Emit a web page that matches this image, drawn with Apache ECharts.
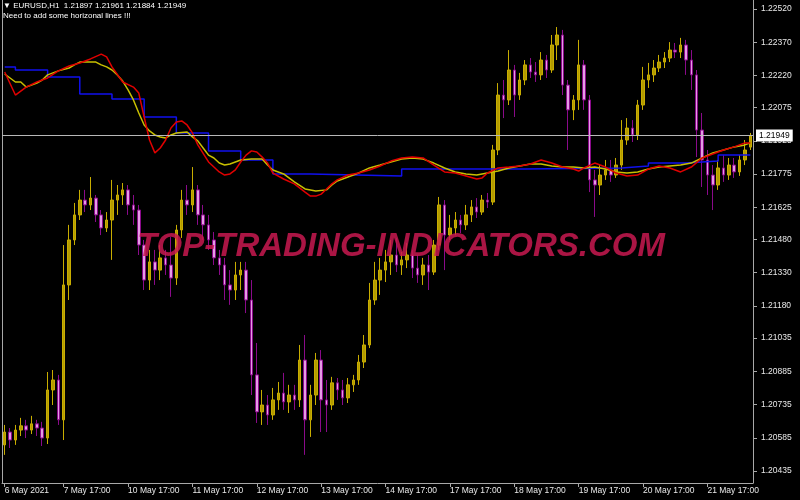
<!DOCTYPE html>
<html><head><meta charset="utf-8">
<script src="https://cdn.jsdelivr.net/npm/echarts@6/dist/echarts.min.js"></script>
<style>html,body{margin:0;padding:0;background:#000;}#c{width:800px;height:500px;}</style>
</head><body><div id="c"></div>
<script>
// ---- data (EURUSD, 2-hour buckets) ----
const opens = [
1.20553,1.20611,1.20575,1.20620,1.20639,1.20620,1.20648,1.20629,1.20584,1.20801,
1.20846,1.20666,1.21275,1.21478,1.21591,1.21658,1.21636,1.21667,1.21591,1.21532,
1.21568,1.21658,1.21681,1.21704,1.21636,1.21613,1.21455,1.21297,1.21379,1.21342,
1.21397,1.21365,1.21306,1.21523,1.21658,1.21636,1.21704,1.21591,1.21546,1.21478,
1.21397,1.21365,1.21275,1.21252,1.21320,1.21342,1.21207,1.20869,1.20702,1.20733,
1.20688,1.20756,1.20787,1.20747,1.20778,1.20756,1.20936,1.20666,1.20778,1.20936,
1.20756,1.20733,1.20833,1.20801,1.20765,1.20824,1.20846,1.20927,1.21004,1.21207,
1.21297,1.21342,1.21379,1.21410,1.21365,1.21388,1.21410,1.21351,1.21320,1.21365,
1.21333,1.21455,1.21636,1.21500,1.21532,1.21568,1.21546,1.21591,1.21627,1.21604,
1.21658,1.21649,1.21884,1.22132,1.22110,1.22245,1.22132,1.22200,1.22268,1.22236,
1.22223,1.22290,1.22245,1.22358,1.22403,1.22177,1.22065,1.22110,1.22268,1.22110,
1.21749,1.21726,1.21771,1.21794,1.21771,1.21816,1.21929,1.21983,1.21952,1.22087,
1.22200,1.22223,1.22254,1.22281,1.22299,1.22335,1.22326,1.22358,1.22290,1.22223,
1.21974,1.21839,1.21771,1.21726,1.21803,1.21771,1.21816,1.21785,1.21839,1.21897
];
const closes = [
1.20611,1.20575,1.20620,1.20639,1.20620,1.20648,1.20629,1.20584,1.20801,1.20846,
1.20666,1.21275,1.21478,1.21591,1.21658,1.21636,1.21667,1.21591,1.21532,1.21568,
1.21658,1.21681,1.21704,1.21636,1.21613,1.21455,1.21297,1.21379,1.21342,1.21397,
1.21365,1.21306,1.21523,1.21658,1.21636,1.21704,1.21591,1.21546,1.21478,1.21397,
1.21365,1.21275,1.21252,1.21320,1.21342,1.21207,1.20869,1.20702,1.20733,1.20688,
1.20756,1.20787,1.20747,1.20778,1.20756,1.20936,1.20666,1.20778,1.20936,1.20756,
1.20733,1.20833,1.20801,1.20765,1.20824,1.20846,1.20927,1.21004,1.21207,1.21297,
1.21342,1.21379,1.21410,1.21365,1.21388,1.21410,1.21351,1.21320,1.21365,1.21333,
1.21455,1.21636,1.21500,1.21532,1.21568,1.21546,1.21591,1.21627,1.21604,1.21658,
1.21649,1.21884,1.22132,1.22110,1.22245,1.22132,1.22200,1.22268,1.22236,1.22223,
1.22290,1.22245,1.22358,1.22403,1.22177,1.22065,1.22110,1.22268,1.22110,1.21749,
1.21726,1.21771,1.21794,1.21771,1.21816,1.21929,1.21983,1.21952,1.22087,1.22200,
1.22223,1.22254,1.22281,1.22299,1.22335,1.22326,1.22358,1.22290,1.22223,1.21974,
1.21839,1.21771,1.21726,1.21803,1.21771,1.21816,1.21785,1.21839,1.21884,1.21949
];
const lows = [
1.20508,1.20539,1.20553,1.20593,1.20584,1.20602,1.20593,1.20548,1.20557,1.20733,
1.20643,1.20575,1.21207,1.21455,1.21568,1.21604,1.21613,1.21559,1.21500,1.21514,
1.21388,1.21591,1.21636,1.21591,1.21546,1.21410,1.21252,1.21252,1.21275,1.21297,
1.21320,1.21221,1.21275,1.21487,1.21591,1.21604,1.21546,1.21478,1.21433,1.21365,
1.21320,1.21207,1.21185,1.21207,1.21252,1.21148,1.20778,1.20652,1.20643,1.20643,
1.20666,1.20711,1.20711,1.20697,1.20711,1.20724,1.20508,1.20589,1.20733,1.20611,
1.20611,1.20711,1.20756,1.20733,1.20742,1.20792,1.20824,1.20900,1.20990,1.21185,
1.21230,1.21288,1.21320,1.21333,1.21320,1.21351,1.21306,1.21284,1.21275,1.21252,
1.21320,1.21433,1.21342,1.21478,1.21500,1.21509,1.21523,1.21559,1.21577,1.21591,
1.21622,1.21636,1.21861,1.22028,1.22087,1.22033,1.22110,1.22177,1.22209,1.22191,
1.22200,1.22209,1.22232,1.22290,1.22132,1.21884,1.22019,1.22065,1.22065,1.21694,
1.21582,1.21681,1.21749,1.21740,1.21758,1.21794,1.21907,1.21920,1.21929,1.22065,
1.22164,1.22191,1.22236,1.22254,1.22281,1.22299,1.22299,1.22223,1.22155,1.21852,
1.21717,1.21681,1.21613,1.21704,1.21740,1.21749,1.21758,1.21767,1.21816,1.21884
];
const highs = [
1.20643,1.20629,1.20643,1.20675,1.20666,1.20684,1.20666,1.20657,1.20882,1.20891,
1.20869,1.21455,1.21546,1.21645,1.21704,1.21704,1.21762,1.21681,1.21613,1.21604,
1.21749,1.21726,1.21735,1.21726,1.21681,1.21636,1.21478,1.21433,1.21433,1.21455,
1.21433,1.21491,1.21546,1.21704,1.21726,1.21807,1.21726,1.21636,1.21591,1.21514,
1.21433,1.21397,1.21342,1.21379,1.21379,1.21379,1.21297,1.21013,1.20801,1.20778,
1.20810,1.20837,1.20878,1.20824,1.20824,1.21004,1.21049,1.20824,1.20968,1.20981,
1.20846,1.20860,1.20855,1.20846,1.20855,1.20869,1.20959,1.21049,1.21284,1.21379,
1.21397,1.21433,1.21478,1.21487,1.21424,1.21464,1.21433,1.21410,1.21397,1.21410,
1.21478,1.21672,1.21658,1.21591,1.21604,1.21591,1.21636,1.21658,1.21667,1.21681,
1.21690,1.21907,1.22186,1.22200,1.22335,1.22268,1.22232,1.22290,1.22299,1.22281,
1.22326,1.22313,1.22403,1.22439,1.22426,1.22200,1.22132,1.22381,1.22290,1.22132,
1.21794,1.21816,1.21839,1.21839,1.21848,1.22019,1.22028,1.22019,1.22110,1.22259,
1.22277,1.22290,1.22313,1.22326,1.22371,1.22367,1.22390,1.22381,1.22335,1.22245,
1.22051,1.21884,1.21816,1.21839,1.21861,1.21848,1.21848,1.21861,1.21929,1.21961
];
// indicator lines: [bar index, price]
const redLine = [[0,1.22236],[2,1.22132],[4,1.22168],[6,1.22191],[8,1.22209],[10,1.22241],[12,1.22263],[14,1.22277],[16,1.22295],[18,1.22317],[19,1.22304],[20,1.22259],[22,1.22191],[24,1.22168],[25,1.22141],[26,1.22033],[27,1.21929],[28,1.21871],[29,1.21893],[30,1.21929],[31,1.21983],[32,1.22010],[33,1.22015],[34,1.21997],[35,1.21961],[36,1.21907],[38,1.21830],[40,1.21785],[41,1.21771],[42,1.21776],[43,1.21794],[44,1.21830],[45,1.21861],[46,1.21880],[47,1.21875],[48,1.21852],[49,1.21825],[50,1.21780],[52,1.21753],[54,1.21731],[56,1.21694],[57,1.21676],[58,1.21676],[59,1.21685],[60,1.21708],[61,1.21731],[62,1.21749],[64,1.21771],[66,1.21780],[68,1.21794],[70,1.21812],[72,1.21834],[74,1.21848],[76,1.21852],[78,1.21848],[80,1.21816],[82,1.21785],[84,1.21780],[86,1.21767],[88,1.21753],[89,1.21758],[90,1.21780],[92,1.21803],[94,1.21807],[96,1.21812],[98,1.21821],[100,1.21839],[102,1.21825],[104,1.21807],[106,1.21798],[107,1.21789],[108,1.21803],[110,1.21825],[112,1.21807],[114,1.21780],[116,1.21767],[118,1.21771],[120,1.21798],[122,1.21812],[124,1.21803],[126,1.21785],[128,1.21807],[130,1.21848],[132,1.21866],[134,1.21884],[136,1.21898],[138,1.21916],[139,1.21916]];
const yellowLine = [[0,1.22227],[1,1.22209],[2,1.22191],[3,1.22191],[4,1.22168],[5,1.22177],[6,1.22186],[7,1.22200],[8,1.22223],[10,1.22241],[12,1.22254],[13,1.22268],[14,1.22281],[16,1.22281],[17,1.22281],[18,1.22268],[19,1.22259],[20,1.22245],[21,1.22223],[22,1.22195],[23,1.22155],[24,1.22110],[25,1.22051],[26,1.21997],[27,1.21970],[28,1.21952],[29,1.21943],[30,1.21938],[31,1.21952],[32,1.21961],[34,1.21965],[35,1.21943],[36,1.21925],[37,1.21893],[38,1.21861],[39,1.21848],[40,1.21825],[41,1.21816],[42,1.21821],[44,1.21839],[46,1.21843],[48,1.21843],[49,1.21816],[50,1.21794],[52,1.21776],[54,1.21740],[56,1.21708],[58,1.21699],[60,1.21704],[61,1.21726],[62,1.21744],[64,1.21762],[66,1.21780],[68,1.21803],[70,1.21816],[72,1.21830],[74,1.21843],[76,1.21848],[78,1.21843],[80,1.21825],[82,1.21803],[84,1.21785],[86,1.21776],[88,1.21771],[90,1.21780],[92,1.21789],[94,1.21803],[96,1.21812],[98,1.21821],[100,1.21821],[102,1.21812],[104,1.21807],[106,1.21807],[108,1.21803],[110,1.21807],[112,1.21798],[114,1.21785],[116,1.21780],[118,1.21785],[120,1.21798],[122,1.21807],[124,1.21812],[126,1.21816],[128,1.21825],[130,1.21848],[132,1.21871],[134,1.21884],[136,1.21898],[138,1.21907],[139,1.21916]];
const blueLine = [[0,1.22259],[2,1.22245],[8,1.22214],[14,1.22137],[20,1.22114],[26,1.22033],[32,1.21961],[38,1.21880],[44,1.21839],[50,1.21776],[57,1.21767],[74,1.21798],[97,1.21803],[115,1.21812],[120,1.21825],[127,1.21834],[133,1.21861],[139,1.21861]];
const lastPrice = 1.21949;
const yTicks = [1.20435,1.20585,1.20735,1.20885,1.21035,1.21180,1.21330,1.21480,1.21625,1.21775,1.21925,1.22075,1.22220,1.22370,1.22520];
const xTickIdx = [0,11,23,35,47,59,71,83,95,107,119,131];
const xTickText = ['6 May 2021','7 May 17:00','10 May 17:00','11 May 17:00','12 May 17:00','13 May 17:00','14 May 17:00','17 May 17:00','18 May 17:00','19 May 17:00','20 May 17:00','21 May 17:00'];
const headerLine1 = '\u25BC EURUSD,H1  1.21897 1.21961 1.21884 1.21949';
const headerLine2 = 'Need to add some horizonal lines !!!';
const watermark = 'TOP-TRADING-INDICATORS.COM';
const yMin = 1.20381, yMax = 1.22561;

// ---- chart ----
const categories = opens.map((_, i) => String(i));
const candles = opens.map((o, i) => [o, closes[i], lows[i], highs[i]]);
const F = '"Liberation Sans", Arial, sans-serif';
const chart = echarts.init(document.getElementById('c'), null, {renderer: 'canvas'});
const isTick = (i) => xTickIdx.indexOf(i) >= 0;
chart.setOption({
  animation: false,
  backgroundColor: '#000',
  grid: {left: 2, right: 47, top: 0, bottom: 17},
  xAxis: {
    type: 'category', data: categories, boundaryGap: true,
    axisLine: {show: true, lineStyle: {color: '#a8a8a8', width: 1}},
    axisTick: {show: true, alignWithLabel: true, length: 4, interval: isTick, lineStyle: {color: '#a8a8a8'}},
    axisLabel: {interval: isTick, formatter: (v, i) => { const k = xTickIdx.indexOf(i); return k >= 0 ? xTickText[k] : ''; },
      color: '#e8e8e8', fontSize: 8.5, fontFamily: F, align: 'left', margin: 3},
    splitLine: {show: false}
  },
  yAxis: [{
    type: 'value', position: 'right', min: yMin, max: yMax,
    axisLine: {show: true, lineStyle: {color: '#a8a8a8', width: 1}},
    axisTick: {show: true, length: 4, customValues: yTicks, lineStyle: {color: '#a8a8a8'}},
    axisLabel: {customValues: yTicks, formatter: (v) => v.toFixed(5), color: '#e8e8e8', fontSize: 8.5, fontFamily: F, margin: 8},
    splitLine: {show: false}
  }, {
    type: 'value', position: 'left', min: yMin, max: yMax,
    axisLine: {show: true, lineStyle: {color: '#a8a8a8', width: 1}},
    axisTick: {show: false}, axisLabel: {show: false}, splitLine: {show: false}
  }],
  series: [{
    type: 'candlestick', data: candles, barWidth: 3, z: 2,
    itemStyle: {color: '#b39b00', color0: '#e49ce4', borderColor: '#c8ad00', borderColor0: '#8a0a8a', borderWidth: 1}
  }, {
    type: 'line', data: blueLine, step: 'end', showSymbol: false, z: 3,
    lineStyle: {color: '#1010ee', width: 1.5},
    markLine: {
      silent: true, symbol: 'none', z: 5, precision: 5,
      lineStyle: {color: '#b8b8b8', width: 1, type: 'solid'},
      label: {show: true, position: 'end', formatter: lastPrice.toFixed(5), backgroundColor: '#fff', color: '#000',
        padding: [2, 3, 1, 3], fontSize: 8.5, fontFamily: F, distance: 3},
      data: [{yAxis: lastPrice}]
    }
  }, {
    type: 'line', data: yellowLine, showSymbol: false, z: 3,
    lineStyle: {color: '#c8c000', width: 1.5}
  }, {
    type: 'line', data: redLine, showSymbol: false, z: 4,
    lineStyle: {color: '#e00000', width: 1.5}
  }],
  graphic: [
    {type: 'text', left: 3, top: 2, z: 10, style: {text: headerLine1, fill: '#ffffff', font: '8px ' + F}},
    {type: 'text', left: 3, top: 12, z: 10, style: {text: headerLine2, fill: '#ffffff', font: '8px ' + F}},
    {type: 'text', x: 401, y: 247, z: 20, style: {text: watermark, fill: 'rgba(200,25,80,0.85)',
      font: 'italic bold 33px ' + F, align: 'center', verticalAlign: 'middle'}}
  ]
});
</script>
</body></html>
